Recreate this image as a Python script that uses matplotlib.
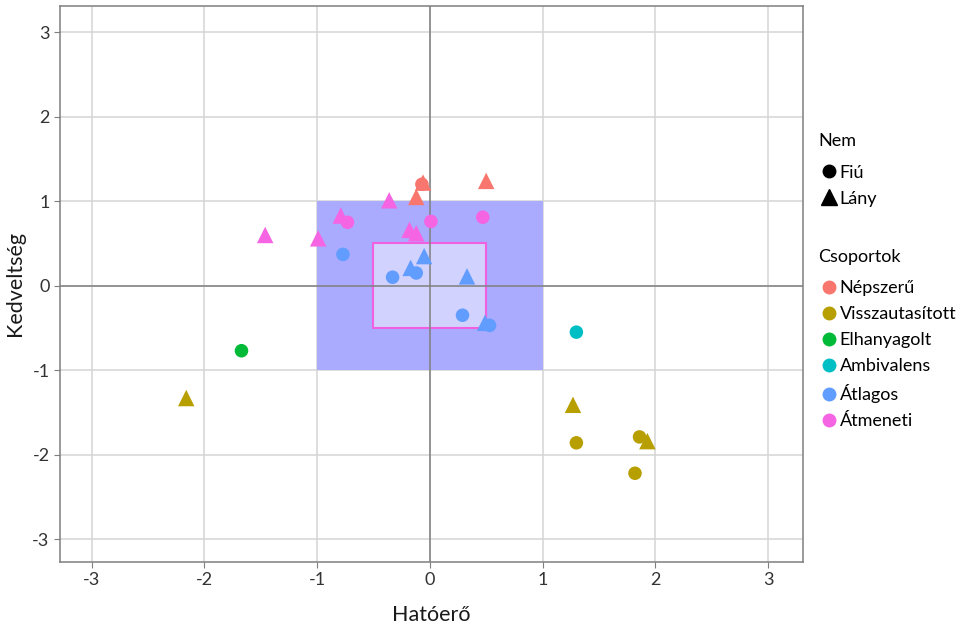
import matplotlib.pyplot as plt
from matplotlib.lines import Line2D
from matplotlib.patches import Rectangle

plt.rcParams['font.family'] = ['Lato', 'DejaVu Sans']
plt.rcParams['axes.unicode_minus'] = False

# data
groups = ['Népszerű', 'Visszautasított', 'Elhanyagolt', 'Ambivalens', 'Átlagos', 'Átmeneti']
colors = ['#F8766D', '#B79F00', '#00BA38', '#00BFC4', '#619CFF', '#F564E3']

# (x, y, nem) per group; nem: 'F' = Fiú, 'L' = Lány
nepszeru = [(-0.07, 1.20, 'F'), (-0.06, 1.22, 'L'), (-0.12, 1.05, 'L'), (0.50, 1.24, 'L')]
visszautasitott = [(-2.16, -1.33, 'L'), (1.27, -1.41, 'L'), (1.30, -1.86, 'F'),
                   (1.86, -1.79, 'F'), (1.93, -1.84, 'L'), (1.82, -2.22, 'F')]
elhanyagolt = [(-1.67, -0.77, 'F')]
ambivalens = [(1.30, -0.55, 'F')]
atlagos = [(-0.77, 0.37, 'F'), (-0.33, 0.10, 'F'), (-0.17, 0.21, 'L'), (-0.12, 0.15, 'F'),
           (-0.05, 0.35, 'L'), (0.33, 0.11, 'L'), (0.29, -0.35, 'F'), (0.49, -0.44, 'L'),
           (0.53, -0.47, 'F')]
atmeneti = [(-1.46, 0.60, 'L'), (-0.99, 0.56, 'L'), (-0.79, 0.83, 'L'), (-0.73, 0.75, 'F'),
            (-0.36, 1.01, 'L'), (-0.18, 0.66, 'L'), (-0.12, 0.62, 'L'), (0.01, 0.76, 'F'),
            (0.47, 0.81, 'F')]
all_points = [nepszeru, visszautasitott, elhanyagolt, ambivalens, atlagos, atmeneti]

ticks = [-3, -2, -1, 0, 1, 2, 3]

fig = plt.figure(figsize=(9.64, 6.31), dpi=100)
ax = fig.add_axes([0.0622, 0.1094, 0.7708, 0.8811])

ax.set_xlim(-3.28, 3.31)
ax.set_ylim(-3.27, 3.31)
ax.set_xticks(ticks)
ax.set_yticks(ticks)
ax.grid(True, color='#d4d4d4', linewidth=1.1, zorder=0)
ax.set_axisbelow(True)

# shaded zones
ax.add_patch(Rectangle((-1, -1), 2, 2, facecolor='#aaaaff', edgecolor='none', zorder=1))
ax.add_patch(Rectangle((-0.5, -0.5), 1, 1, facecolor='#d2d2ff', edgecolor='#f060e0',
                       linewidth=1.5, zorder=1))

ax.axhline(0, color='#7f7f7f', linewidth=1.1, zorder=2)
ax.axvline(0, color='#7f7f7f', linewidth=1.1, zorder=2)

for pts, c in zip(all_points, colors):
    for x, y, nem in pts:
        if nem == 'F':
            ax.scatter(x, y, s=95, marker='o', color=c, edgecolors='none', zorder=3)
        else:
            ax.scatter(x, y, s=140, marker='^', color=c, edgecolors='none', zorder=3)

for sp in ax.spines.values():
    sp.set_color('#7f7f7f')
    sp.set_linewidth(1.1)
ax.tick_params(colors='#7f7f7f', labelcolor='#333333', labelsize=13, length=4)
ax.set_xlabel('Hatóerő', fontsize=15.5, color='#1a1a1a', labelpad=12)
ax.set_ylabel('Kedveltség', fontsize=15.5, color='#1a1a1a', labelpad=5)

nem_handles = [Line2D([], [], marker='o', color='black', linestyle='none', markersize=9),
               Line2D([], [], marker='^', color='black', linestyle='none', markersize=11)]
leg1 = fig.legend(nem_handles, ['Fiú', 'Lány'], title='Nem', loc='upper left',
                  bbox_to_anchor=(0.841, 0.80), frameon=False, fontsize=13,
                  title_fontsize=13, handletextpad=0.0, handlelength=1.2,
                  labelspacing=0.55, borderaxespad=0)
leg1._legend_box.align = 'left'
leg1._legend_box.sep = 11

grp_handles = [Line2D([], [], marker='o', color=c, linestyle='none', markersize=9)
               for c in colors]
leg2 = fig.legend(grp_handles, groups, title='Csoportok', loc='upper left',
                  bbox_to_anchor=(0.841, 0.617), frameon=False, fontsize=13,
                  title_fontsize=13, handletextpad=0.0, handlelength=1.2,
                  labelspacing=0.55, borderaxespad=0)
leg2._legend_box.align = 'left'
leg2._legend_box.sep = 11

fig.savefig('out.png', dpi=100)
